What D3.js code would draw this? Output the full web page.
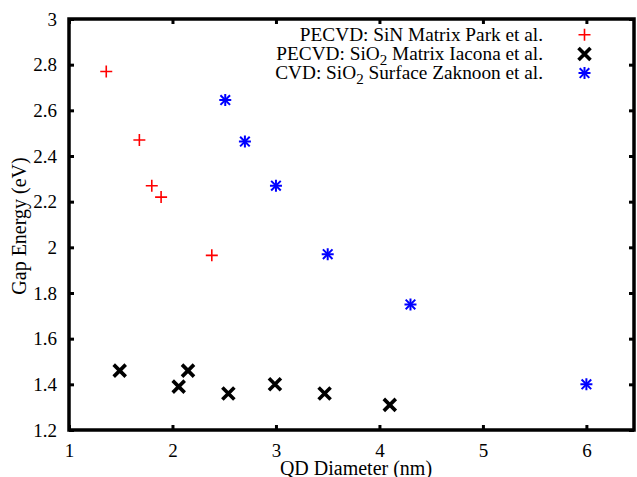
<!DOCTYPE html>
<html>
<head>
<meta charset="utf-8">
<script src="https://cdn.jsdelivr.net/npm/d3@7"></script>
<style>
  body { margin: 0; background: #fff; }
  text { font-family: "Liberation Serif", "Times New Roman", serif; fill: #000; }
</style>
</head>
<body>
<div id="chart"></div>
<script>
// --- datos ---
const parkX = [1.36, 1.68, 1.80, 1.89, 2.38];
const parkY = [2.77, 2.47, 2.27, 2.22, 1.965];

const iaconaX = [1.49, 2.06, 2.15, 2.54, 2.99, 3.47, 4.10];
const iaconaY = [1.46, 1.39, 1.46, 1.36, 1.40, 1.36, 1.31];

const zakX = [2.51, 2.70, 3.00, 3.50, 4.30, 6.00];
const zakY = [2.645, 2.463, 2.27, 1.97, 1.75, 1.40];

const xTicks = [1, 2, 3, 4, 5, 6];
const yTicks = [1.2, 1.4, 1.6, 1.8, 2, 2.2, 2.4, 2.6, 2.8, 3];

const W = 637, H = 477;
const margin = {top: 19, right: 3, bottom: 47, left: 69};
const width = W - margin.left - margin.right,
      height = H - margin.top - margin.bottom;

const svg = d3.select("#chart").append("svg")
    .attr("width", W).attr("height", H)
  .append("g")
    .attr("transform", `translate(${margin.left},${margin.top})`);

const x = d3.scaleLinear().domain([1, 6.46]).range([0, width]);
const y = d3.scaleLinear().domain([1.2, 3]).range([height, 0]);

const fs = 19.3;      // leyenda
const fsTick = 19;
const fsLab = 20;

// --- ejes (ticks hacia dentro, en los cuatro lados) ---
const tk = 5;
const gx = svg.append("g").attr("transform", `translate(0,${height})`)
  .call(d3.axisBottom(x).tickValues(xTicks).tickSize(-tk).tickPadding(13.5).tickFormat(d3.format("d")));
const gxTop = svg.append("g")
  .call(d3.axisTop(x).tickValues(xTicks).tickSize(-tk).tickFormat(""));
const gy = svg.append("g")
  .call(d3.axisLeft(y).tickValues(yTicks).tickSize(-tk).tickPadding(12).tickFormat(d => d3.format("~g")(d)));
const gyR = svg.append("g").attr("transform", `translate(${width},0)`)
  .call(d3.axisRight(y).tickValues(yTicks).tickSize(-tk).tickFormat(""));

[gx, gxTop, gy, gyR].forEach(g => {
  g.attr("font-family", "Liberation Serif").attr("font-size", fsTick);
  g.select(".domain").remove();
  g.selectAll(".tick line").attr("stroke", "#000").attr("stroke-width", 3);
  g.selectAll("text").style("font-family", "'Liberation Serif', serif").style("font-size", fsTick + "px").attr("fill", "#000");
});

// marco
svg.append("rect")
  .attr("x", 0).attr("y", 0).attr("width", width).attr("height", height)
  .attr("fill", "none").attr("stroke", "#000").attr("stroke-width", 3.5);

// etiquetas de ejes
svg.append("text")
  .attr("x", 287).attr("y", height + 45)
  .attr("text-anchor", "middle").style("font-size", fsLab + "px")
  .text("QD Diameter (nm)");

svg.append("text")
  .attr("transform", "rotate(-90)")
  .attr("x", -(226 - margin.top)).attr("y", -43)
  .attr("text-anchor", "middle").style("font-size", fsLab + "px")
  .text("Gap Energy (eV)");

// --- marcadores ---
const s = 6;
function plus(g, cx, cy, color, sw) {
  g.append("path").attr("d", `M${cx - s},${cy}H${cx + s}M${cx},${cy - s}V${cy + s}`)
    .attr("stroke", color).attr("stroke-width", sw).attr("fill", "none");
}
function cross(g, cx, cy, color, sw) {
  g.append("path").attr("d", `M${cx - s},${cy - s}L${cx + s},${cy + s}M${cx - s},${cy + s}L${cx + s},${cy - s}`)
    .attr("stroke", color).attr("stroke-width", sw).attr("fill", "none");
}
function star(g, cx, cy, color, sw) {
  plus(g, cx, cy, color, sw);
  const r = s * 0.8;
  g.append("path").attr("d", `M${cx - r},${cy - r}L${cx + r},${cy + r}M${cx - r},${cy + r}L${cx + r},${cy - r}`)
    .attr("stroke", color).attr("stroke-width", sw).attr("fill", "none");
}

const marks = svg.append("g");
parkX.forEach((d, i) => plus(marks, x(d), y(parkY[i]), "#ff0000", 1.6));
iaconaX.forEach((d, i) => cross(marks, x(d), y(iaconaY[i]), "#000000", 3.6));
zakX.forEach((d, i) => star(marks, x(d), y(zakY[i]), "#0000ff", 2));

// --- leyenda ---
const legend = [
  {parts: [["PECVD: SiN Matrix Park et al.", 0]], mark: plus, color: "#ff0000", sw: 1.6},
  {parts: [["PECVD: SiO", 0], ["2", 1], [" Matrix Iacona et al.", -1]], mark: cross, color: "#000000", sw: 3.6},
  {parts: [["CVD: SiO", 0], ["2", 1], [" Surface Zaknoon et al.", -1]], mark: star, color: "#0000ff", sw: 2}
];
const lg = svg.append("g");
legend.forEach((d, i) => {
  const by = 40.7 - margin.top + i * 19.2;
  const t = lg.append("text").attr("x", 543 - margin.left).attr("y", by)
    .attr("text-anchor", "end").style("font-size", fs + "px");
  d.parts.forEach(p => {
    const ts = t.append("tspan").text(p[0]);
    if (p[1] === 1) ts.attr("dy", 5).style("font-size", "15px");
    if (p[1] === -1) ts.attr("dy", -5);
  });
  d.mark(lg, 584.5 - margin.left, by - 6, d.color, d.sw);
});
</script>
</body>
</html>
